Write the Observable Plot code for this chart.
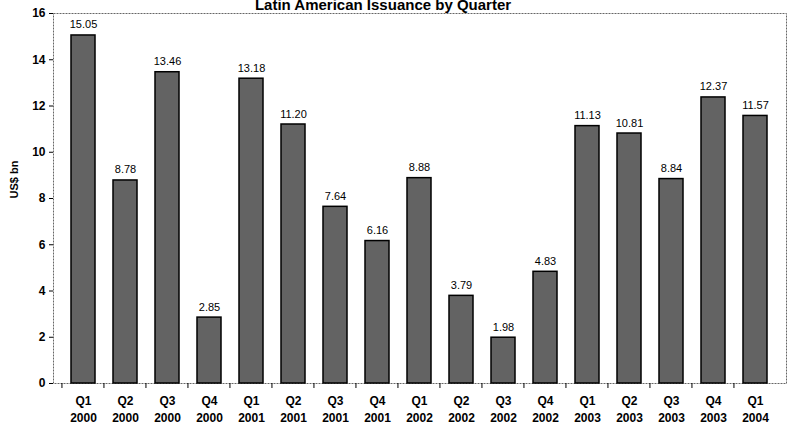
<!DOCTYPE html>
<html>
<head>
<meta charset="utf-8">
<script src="https://cdn.jsdelivr.net/npm/d3@7"></script>
<script src="https://cdn.jsdelivr.net/npm/@observablehq/plot@0.6"></script>
<style>
  body { margin: 0; background: #fff; }
  #chart { position: relative; width: 788px; height: 426px; overflow: hidden; background: #fff; }
  #title {
    position: absolute; left: 0; top: -4px; width: 766px; text-align: center;
    font: bold 15px Arial, "Liberation Sans", sans-serif; color: #000;
  }
</style>
</head>
<body>
<div id="chart"><div id="title">Latin American Issuance by Quarter</div></div>
<script>
// Quarterly Latin American issuance, US$ billions
const quarters = ["Q1","Q2","Q3","Q4","Q1","Q2","Q3","Q4","Q1","Q2","Q3","Q4","Q1","Q2","Q3","Q4","Q1"];
const years = ["2000","2000","2000","2000","2001","2001","2001","2001","2002","2002","2002","2002","2003","2003","2003","2003","2004"];
const issuance = [15.05, 8.78, 13.46, 2.85, 13.18, 11.20, 7.64, 6.16, 8.88, 3.79, 1.98, 4.83, 11.13, 10.81, 8.84, 12.37, 11.57];
const yTicks = [0, 2, 4, 6, 8, 10, 12, 14, 16];
const yLabel = "US$ bn";

const rows = quarters.map((q, i) => ({period: `${q} ${years[i]}`, value: issuance[i]}));

const W = 788, H = 426, mL = 53, mR = 2;
const step = (W - mL - mR) / rows.length;
const font = "Arial, 'Liberation Sans', sans-serif";

const chart = Plot.plot({
  width: W,
  height: H,
  marginLeft: mL,
  marginRight: mR,
  marginTop: 13,
  marginBottom: 43,
  style: {fontFamily: font, fontSize: "11px", color: "#000", background: "transparent", overflow: "visible"},
  x: {domain: rows.map(d => d.period), padding: 0.42, label: null},
  y: {domain: [0, 16], label: null},
  marks: [
    Plot.frame({stroke: "#666", strokeWidth: 1, strokeDasharray: "2,1"}),
    Plot.barY(rows, {x: "period", y: "value", fill: "#636363", stroke: "#000", strokeWidth: 1.5}),
    Plot.text(rows, {x: "period", y: "value", text: d => d.value.toFixed(2), dy: -7, lineAnchor: "bottom", fontSize: 11}),
    Plot.axisY({ticks: yTicks, tickSize: 4, tickPadding: 4, fontWeight: "bold", fontSize: 12, label: null, line: true}),
    Plot.axisX({tickSize: 5, text: null, dx: -step / 2}),
    Plot.axisX({tickSize: 0, tickPadding: 9, fontWeight: "bold", fontSize: 12, lineHeight: 1.45,
      tickFormat: d => d.replace(" ", "\n"), label: null, line: true}),
    Plot.text([yLabel], {frameAnchor: "left", dx: -39, rotate: -90, fontWeight: "bold", fontSize: 11})
  ]
});

document.getElementById("chart").appendChild(chart);
chart.style.position = "absolute";
chart.style.left = "0";
chart.style.top = "0";
</script>
</body>
</html>
